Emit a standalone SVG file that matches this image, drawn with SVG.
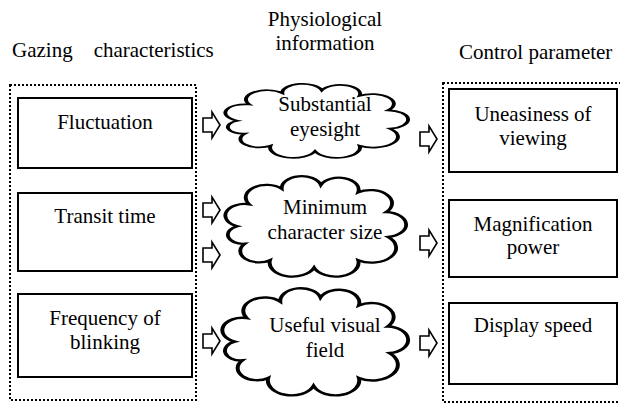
<svg xmlns="http://www.w3.org/2000/svg" width="620" height="404" viewBox="0 0 620 404">
<style>
  text { font-family: "Liberation Serif", Tinos, "Times New Roman", Times, "DejaVu Serif", serif; font-size: 21px; fill: #000; }
  .c { text-anchor: middle; }
  .box { fill: #fff; stroke: #000; stroke-width: 2; }
  .dot { fill: none; stroke: #000; stroke-width: 2; stroke-dasharray: 2 2; }
  .cloud { fill: #fff; stroke: #000; stroke-width: 2; vector-effect: non-scaling-stroke; stroke-linejoin: miter; }
  .arr { fill: #fff; stroke: #000; stroke-width: 1.6; stroke-linejoin: miter; }
</style>
<defs>
  <path id="cloudshape" d="M10,50 A10.05,10.05 0 0 1 16.1,30.9 A10.9,10.9 0 0 1 33.1,17.4 A10.4,10.4 0 0 1 53.5,14.1 A10.3,10.3 0 0 1 73,20.5 A11.35,11.35 0 0 1 87.6,37.7 A10.85,10.85 0 0 1 88.6,59.3 A12.8,12.8 0 0 1 73,79.5 A12,12 0 0 1 50,86 A12,12 0 0 1 27,79.5 A9.8,9.8 0 0 1 13.8,65.2 A7.9,7.9 0 0 1 10,50 Z"/>
</defs>

<!-- headers -->
<text x="12" y="57" xml:space="preserve" style="white-space:pre">Gazing    characteristics</text>
<text class="c" x="325" y="26">Physiological</text>
<text class="c" x="325" y="50">information</text>
<text x="459" y="59">Control parameter</text>

<!-- group frames -->
<g id="gazing-group"><rect class="dot" x="10" y="85" width="186" height="315"/></g>
<g id="control-group"><rect class="dot" x="443" y="83" width="180" height="319"/></g>

<!-- left nodes -->
<g id="fluctuation">
  <rect class="box" x="18" y="98" width="174" height="70"/>
  <text class="c" x="105" y="129">Fluctuation</text>
</g>
<g id="transit-time">
  <rect class="box" x="18" y="193" width="174" height="78"/>
  <text class="c" x="105" y="223">Transit time</text>
</g>
<g id="frequency-of-blinking">
  <rect class="box" x="18" y="294" width="174" height="83"/>
  <text class="c" x="105" y="325">Frequency of</text>
  <text class="c" x="105" y="349">blinking</text>
</g>

<!-- clouds -->
<g id="substantial-eyesight">
  <use href="#cloudshape" class="cloud" transform="translate(218.2,78.3) scale(1.937,0.849)"/>
  <text class="c" x="325" y="111">Substantial</text>
  <text class="c" x="325" y="136">eyesight</text>
</g>
<g id="minimum-character-size">
  <use href="#cloudshape" class="cloud" transform="translate(218.3,168.7) scale(1.916,1.151)"/>
  <text class="c" x="325" y="214">Minimum</text>
  <text class="c" x="325" y="239">character size</text>
</g>
<g id="useful-visual-field">
  <use href="#cloudshape" class="cloud" transform="translate(215.1,280.2) scale(1.969,1.229)"/>
  <text class="c" x="325" y="332">Useful visual</text>
  <text class="c" x="325" y="357">field</text>
</g>

<!-- right nodes -->
<g id="uneasiness-of-viewing">
  <rect class="box" x="449" y="89" width="168" height="83"/>
  <text class="c" x="533" y="121">Uneasiness of</text>
  <text class="c" x="533" y="145">viewing</text>
</g>
<g id="magnification-power">
  <rect class="box" x="449" y="200" width="168" height="77"/>
  <text class="c" x="533" y="231">Magnification</text>
  <text class="c" x="533" y="254">power</text>
</g>
<g id="display-speed">
  <rect class="box" x="449" y="303" width="168" height="81"/>
  <text class="c" x="533" y="332">Display speed</text>
</g>

<!-- connectors: block arrows -->
<g id="connectors">
  <path class="arr" d="M203,118 H212 V112 L220,125 L212,138 V132 H203 Z"/>
  <path class="arr" d="M203,203 H212 V197 L220,210 L212,223 V217 H203 Z"/>
  <path class="arr" d="M203,248 H212 V242 L220,255 L212,268 V262 H203 Z"/>
  <path class="arr" d="M203,334 H212 V328 L220,341 L212,354 V348 H203 Z"/>
  <path class="arr" d="M420,132 H429 V126 L437,139 L429,152 V146 H420 Z"/>
  <path class="arr" d="M420,236 H429 V230 L437,243 L429,256 V250 H420 Z"/>
  <path class="arr" d="M420,336 H429 V330 L437,343 L429,356 V350 H420 Z"/>
</g>
</svg>
